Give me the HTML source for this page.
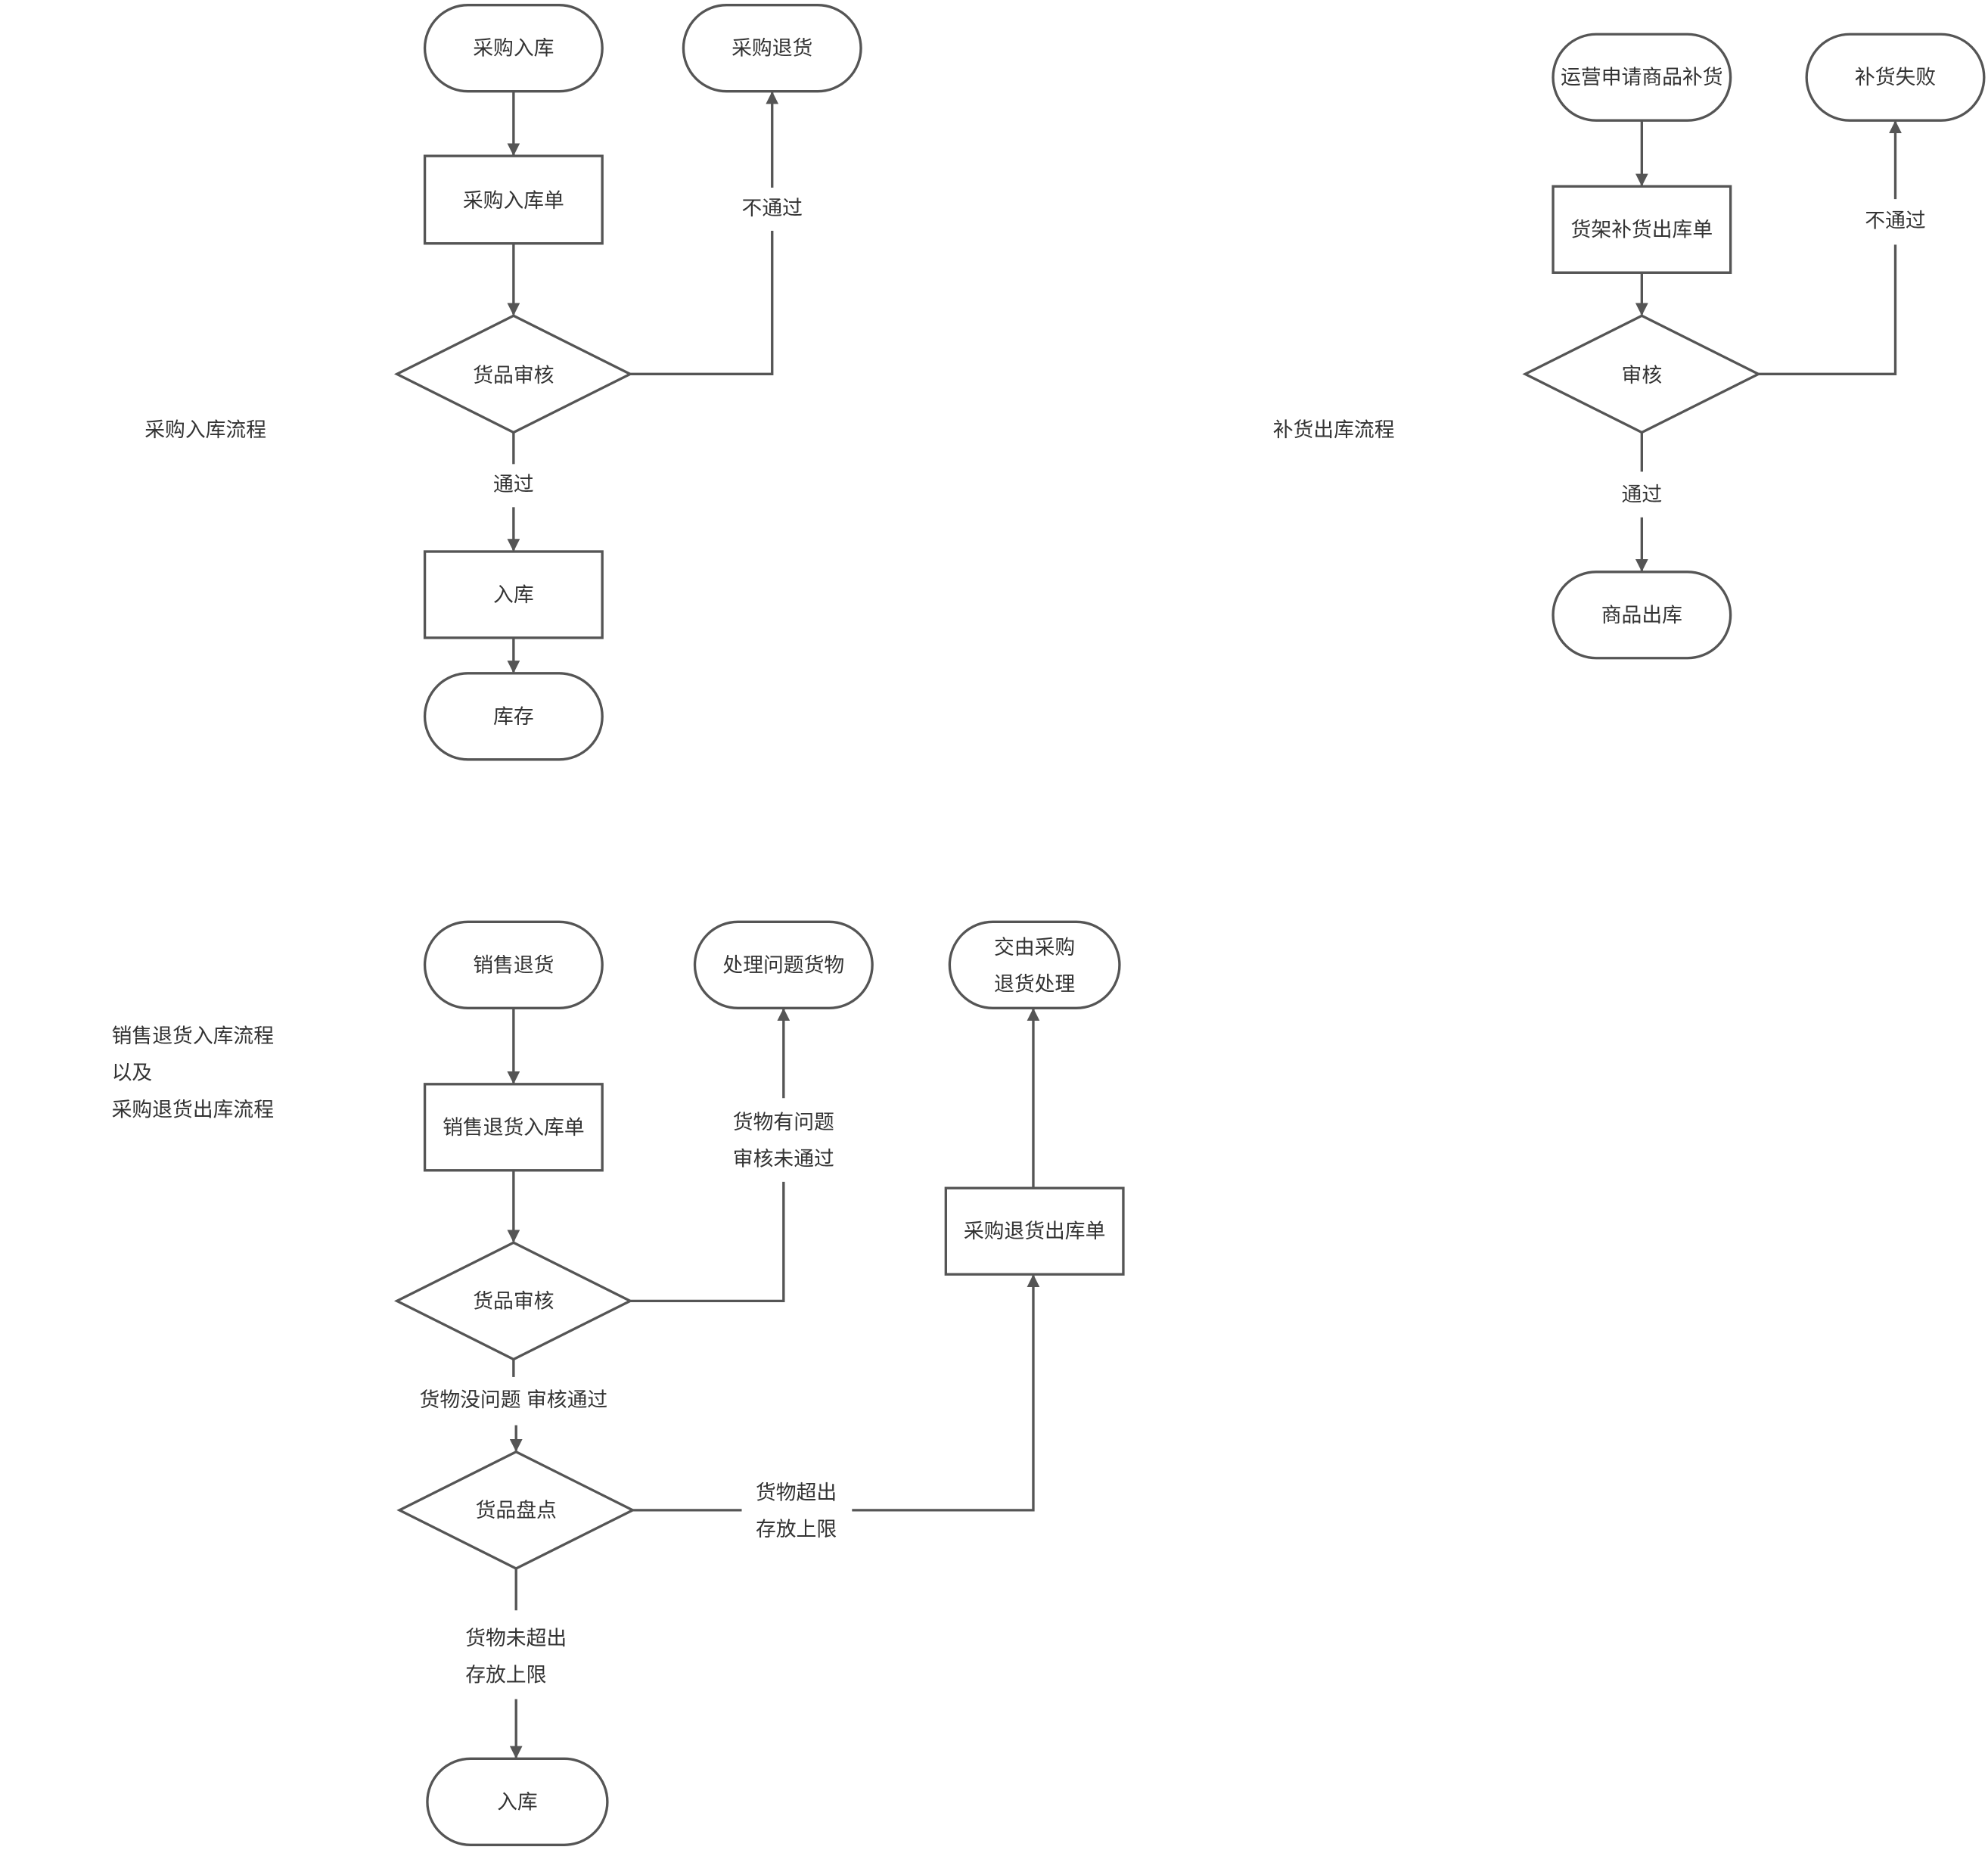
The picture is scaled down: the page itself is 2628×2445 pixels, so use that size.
<!DOCTYPE html>
<html><head><meta charset="utf-8"><style>
html,body{margin:0;padding:0;background:#fff;}
svg{display:block;}
text{font-family:"Liberation Sans","Noto Sans CJK SC",sans-serif;font-size:16px;fill:#333;}
</style></head><body>
<svg width="2628" height="2445" viewBox="0 0 1568 1459" xmlns="http://www.w3.org/2000/svg">
<defs>
<marker id="a" markerWidth="10" markerHeight="10" refX="9" refY="5" orient="auto" markerUnits="userSpaceOnUse">
<path d="M0,0 L10,5 L0,10 z" fill="#555"/></marker>
</defs>
<g fill="none" stroke="#555" stroke-width="2">
<!-- top-left -->
<rect x="335" y="4" width="140" height="68" rx="34"/>
<rect x="335" y="123" width="140" height="69"/>
<polygon points="405,249 497,295 405,341 313,295"/>
<rect x="539" y="4" width="140" height="68" rx="34"/>
<rect x="335" y="435" width="140" height="68"/>
<rect x="335" y="531" width="140" height="68" rx="34"/>
<line x1="405" y1="72" x2="405" y2="122" marker-end="url(#a)"/>
<line x1="405" y1="192" x2="405" y2="248" marker-end="url(#a)"/>
<polyline points="497,295 609,295 609,182"/>
<line x1="609" y1="148" x2="609" y2="73" marker-end="url(#a)"/>
<line x1="405" y1="341" x2="405" y2="366"/>
<line x1="405" y1="400" x2="405" y2="434" marker-end="url(#a)"/>
<line x1="405" y1="503" x2="405" y2="530" marker-end="url(#a)"/>
<!-- right -->
<rect x="1225" y="27" width="140" height="68" rx="34"/>
<rect x="1225" y="147" width="140" height="68"/>
<polygon points="1295,249 1387,295 1295,341 1203,295"/>
<rect x="1425" y="27" width="140" height="68" rx="34"/>
<rect x="1225" y="451" width="140" height="68" rx="34"/>
<line x1="1295" y1="95" x2="1295" y2="146" marker-end="url(#a)"/>
<line x1="1295" y1="215" x2="1295" y2="248" marker-end="url(#a)"/>
<polyline points="1387,295 1495,295 1495,193"/>
<line x1="1495" y1="157" x2="1495" y2="96" marker-end="url(#a)"/>
<line x1="1295" y1="341" x2="1295" y2="372"/>
<line x1="1295" y1="408" x2="1295" y2="450" marker-end="url(#a)"/>
<!-- bottom -->
<rect x="335" y="727" width="140" height="68" rx="34"/>
<rect x="335" y="855" width="140" height="68"/>
<polygon points="405,980 497,1026 405,1072 313,1026"/>
<rect x="548" y="727" width="140" height="68" rx="34"/>
<rect x="749" y="727" width="134" height="68" rx="34"/>
<rect x="746" y="937" width="140" height="68"/>
<polygon points="407,1145 499,1191 407,1237 315,1191"/>
<rect x="337" y="1387" width="142" height="68" rx="34"/>
<line x1="405" y1="795" x2="405" y2="854" marker-end="url(#a)"/>
<line x1="405" y1="923" x2="405" y2="979" marker-end="url(#a)"/>
<polyline points="497,1026 618,1026 618,932"/>
<line x1="618" y1="866" x2="618" y2="796" marker-end="url(#a)"/>
<line x1="815" y1="937" x2="815" y2="796" marker-end="url(#a)"/>
<line x1="405" y1="1072" x2="405" y2="1086"/>
<line x1="407" y1="1124" x2="407" y2="1144" marker-end="url(#a)"/>
<line x1="499" y1="1191" x2="585" y2="1191"/>
<polyline points="672,1191 815,1191 815,1006" marker-end="url(#a)"/>
<line x1="407" y1="1237" x2="407" y2="1270"/>
<line x1="407" y1="1340" x2="407" y2="1386" marker-end="url(#a)"/>
</g>
<g text-anchor="middle" dominant-baseline="central">
<text x="405" y="38">采购入库</text>
<text x="405" y="158">采购入库单</text>
<text x="405" y="296">货品审核</text>
<text x="609" y="38">采购退货</text>
<text x="609" y="164">不通过</text>
<text x="405" y="382">通过</text>
<text x="405" y="469">入库</text>
<text x="405" y="565">库存</text>
<text x="1295" y="61">运营申请商品补货</text>
<text x="1295" y="181">货架补货出库单</text>
<text x="1295" y="296">审核</text>
<text x="1495" y="61">补货失败</text>
<text x="1495" y="174">不通过</text>
<text x="1295" y="390">通过</text>
<text x="1295" y="485">商品出库</text>
<text x="405" y="761">销售退货</text>
<text x="405" y="889">销售退货入库单</text>
<text x="405" y="1026">货品审核</text>
<text x="618" y="761">处理问题货物</text>
<text x="816" y="747">交由采购</text>
<text x="816" y="776">退货处理</text>
<text x="618" y="885">货物有问题</text>
<text x="618" y="914">审核未通过</text>
<text x="816" y="971">采购退货出库单</text>
<text x="405" y="1104">货物没问题 审核通过</text>
<text x="407" y="1191">货品盘点</text>
<text x="628" y="1177">货物超出</text>
<text x="628" y="1206">存放上限</text>
<text x="407" y="1292">货物未超出</text>
<text x="399" y="1321">存放上限</text>
<text x="408" y="1421">入库</text>
<text x="162" y="339">采购入库流程</text>
<text x="1052" y="339">补货出库流程</text>
</g>
<g dominant-baseline="central">
<text x="88" y="817">销售退货入库流程</text>
<text x="88" y="846">以及</text>
<text x="88" y="875">采购退货出库流程</text>
</g>
</svg>
</body></html>
